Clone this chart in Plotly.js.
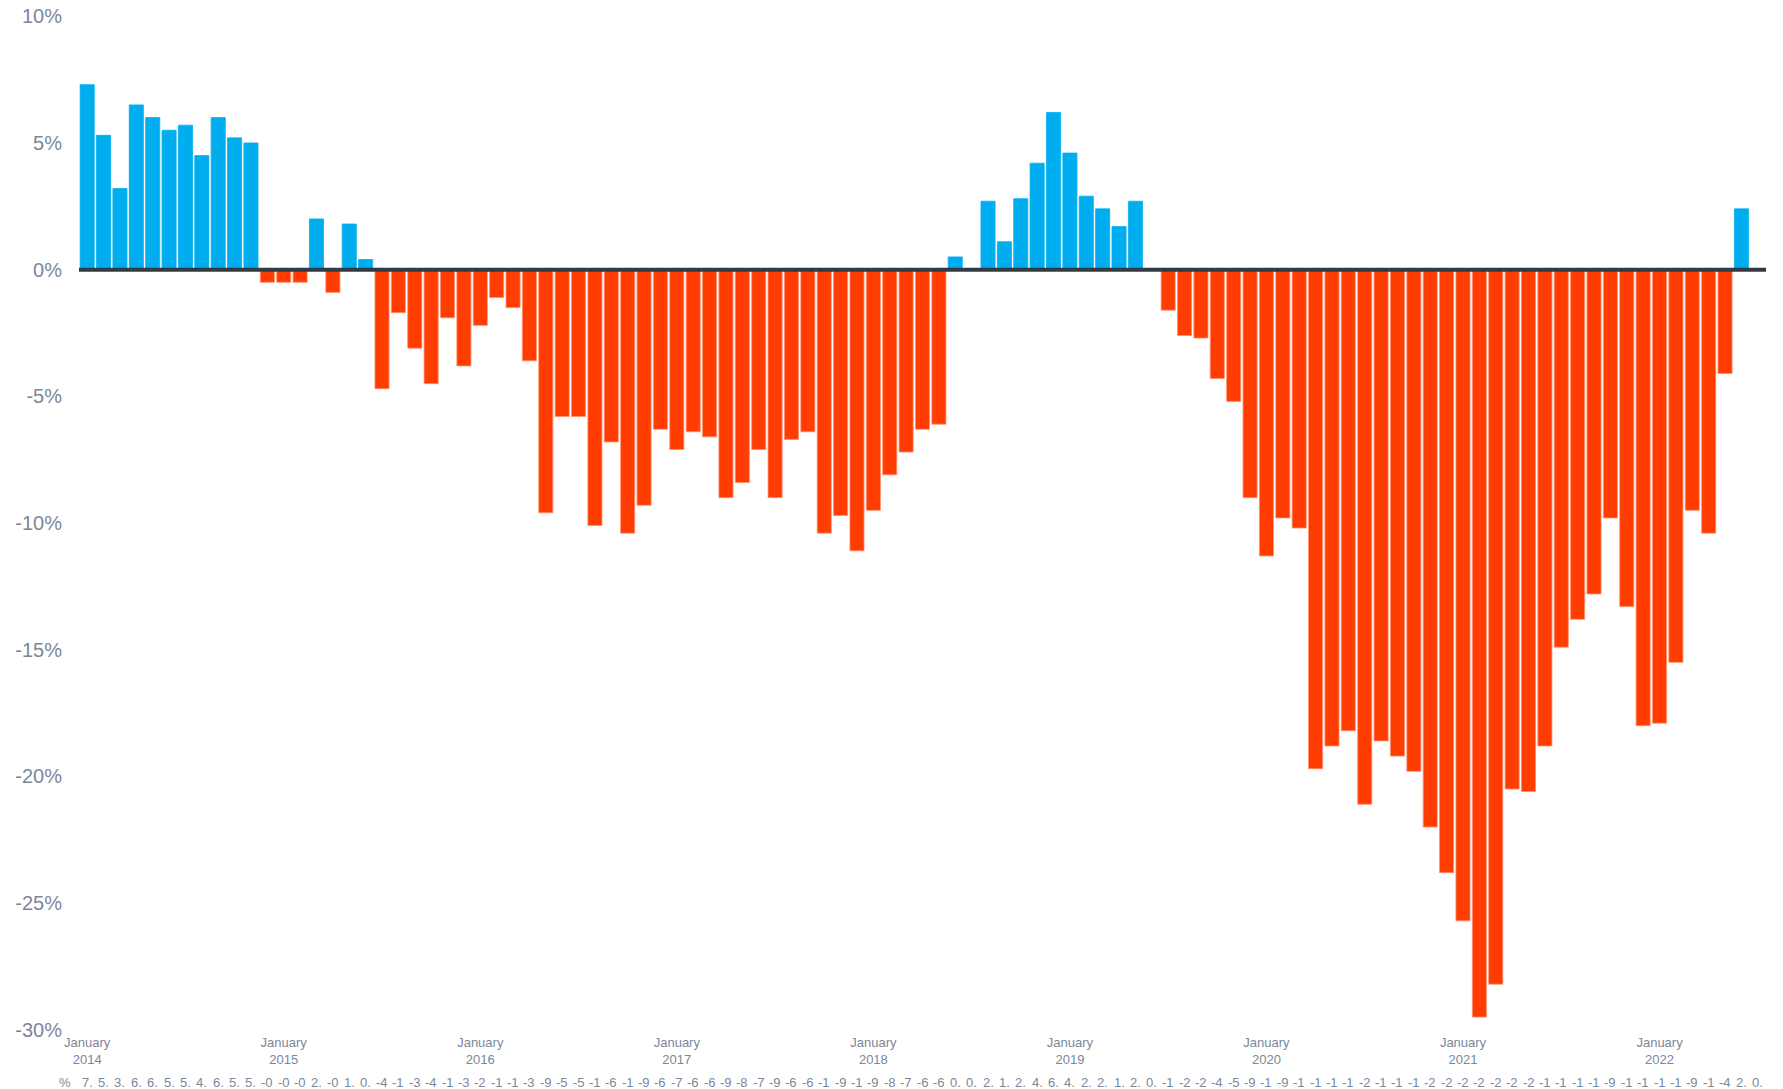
<!DOCTYPE html>
<html>
<head>
<meta charset="utf-8">
<script src="https://cdn.plot.ly/plotly-3.0.1.min.js"></script>
<style>
  html, body { margin: 0; padding: 0; background: #ffffff; }
  #chart { width: 1783px; height: 1089px; }
</style>
</head>
<body>
<div id="chart"></div>
<script>
// Monthly change (%), January 2014 to July 2022
const startYear = 2014;
const values = [
  // 2014
  7.3, 5.3, 3.2, 6.5, 6.0, 5.5, 5.7, 4.5, 6.0, 5.2, 5.0, -0.5,
  // 2015
  -0.5, -0.5, 2.0, -0.9, 1.8, 0.4, -4.7, -1.7, -3.1, -4.5, -1.9, -3.8,
  // 2016
  -2.2, -1.1, -1.5, -3.6, -9.6, -5.8, -5.8, -10.1, -6.8, -10.4, -9.3, -6.3,
  // 2017
  -7.1, -6.4, -6.6, -9.0, -8.4, -7.1, -9.0, -6.7, -6.4, -10.4, -9.7, -11.1,
  // 2018
  -9.5, -8.1, -7.2, -6.3, -6.1, 0.5, 0.0, 2.7, 1.1, 2.8, 4.2, 6.2,
  // 2019
  4.6, 2.9, 2.4, 1.7, 2.7, 0.0, -1.6, -2.6, -2.7, -4.3, -5.2, -9.0,
  // 2020
  -11.3, -9.8, -10.2, -19.7, -18.8, -18.2, -21.1, -18.6, -19.2, -19.8, -22.0, -23.8,
  // 2021
  -25.7, -29.5, -28.2, -20.5, -20.6, -18.8, -14.9, -13.8, -12.8, -9.8, -13.3, -18.0,
  // 2022
  -17.9, -15.5, -9.5, -10.4, -4.1, 2.4, 0.0
];
const monthNames = ["January","February","March","April","May","June","July","August","September","October","November","December"];
const rowHeader = "%";
const yTicks = [-30, -25, -20, -15, -10, -5, 0, 5, 10];

const positiveColor = "#00AEEF";
const negativeColor = "#FF3D00";

// categories built from the month list
const categories = values.map((v, i) => monthNames[i % 12] + " " + (startYear + Math.floor(i / 12)));
const januaryCats = categories.filter((c, i) => i % 12 === 0);
const januaryText = januaryCats.map(c => c.replace(" ", "<br>"));

const rowLabels = values.map(v => v.toFixed(1).slice(0, 2));

const labelColor = "#7b8799";
const fontFamily = "Liberation Sans, Arial, sans-serif";

const annotations = categories.map((c, i) => ({
  x: c, xref: "x", y: -0.0515, yref: "paper",
  text: rowLabels[i], showarrow: false,
  xanchor: "center", yanchor: "middle",
  font: { family: fontFamily, size: 13, color: labelColor }
}));
annotations.push({
  x: -0.0082, xref: "paper", y: -0.0515, yref: "paper",
  text: rowHeader, showarrow: false,
  xanchor: "center", yanchor: "middle",
  font: { family: fontFamily, size: 13, color: labelColor }
});

const trace = {
  type: "bar",
  x: categories,
  y: values,
  marker: {
    color: values.map(v => v >= 0 ? positiveColor : negativeColor),
    line: { width: 0.8, color: values.map(v => v >= 0 ? positiveColor : "#ff8f70") }
  },
  hoverinfo: "x+y"
};

const layout = {
  width: 1783,
  height: 1089,
  margin: { l: 79, r: 17, t: 16, b: 59 },
  paper_bgcolor: "#ffffff",
  plot_bgcolor: "#ffffff",
  showlegend: false,
  bargap: 0.14,
  font: { family: fontFamily, color: labelColor },
  xaxis: {
    type: "category",
    range: [-0.5, categories.length - 0.5],
    showgrid: false,
    zeroline: false,
    showline: false,
    ticks: "",
    tickmode: "array",
    tickvals: januaryCats,
    ticktext: januaryText,
    tickangle: 0,
    tickfont: { size: 13, color: labelColor },
    ticklabelstandoff: 3
  },
  yaxis: {
    range: [-30.01, 10.01],
    showgrid: false,
    zeroline: false,
    showline: false,
    ticks: "",
    tickmode: "array",
    tickvals: yTicks,
    ticktext: yTicks.map(t => t + "%"),
    tickfont: { size: 20, color: labelColor },
    ticklabelstandoff: 16
  },
  shapes: [{
    type: "line", xref: "paper", x0: 0, x1: 1, yref: "y", y0: 0, y1: 0,
    line: { color: "#323b44", width: 4 },
    layer: "above"
  }],
  annotations: annotations
};

Plotly.newPlot("chart", [trace], layout, { displayModeBar: false, staticPlot: true });
</script>
</body>
</html>
